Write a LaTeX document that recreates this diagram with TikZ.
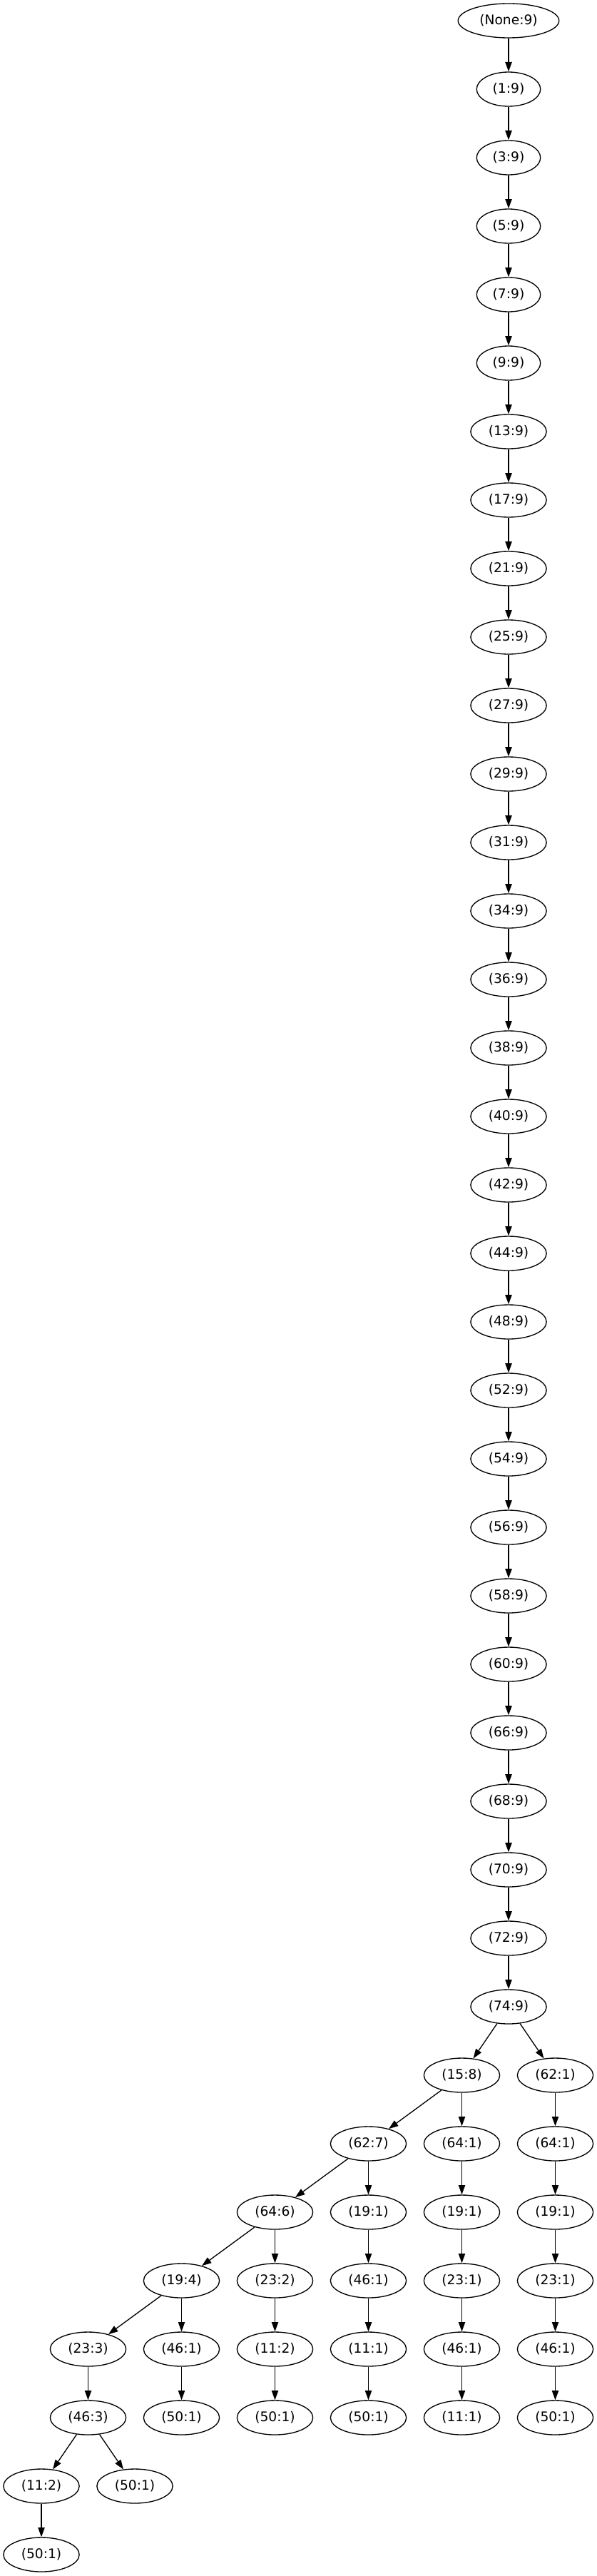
\documentclass[tikz,border=0pt]{standalone}
\usepackage{fontspec}
\setmainfont{DejaVu Sans}
\usetikzlibrary{arrows.meta,shapes.geometric}

\begin{document}
\begin{tikzpicture}[x=49.125pt,y=-72pt,
  vtx/.style={draw,ellipse,line width=1pt,minimum height=36pt,inner xsep=7pt,inner ysep=2pt,font=\fontsize{14pt}{16pt}\selectfont},
  link/.style={-{Triangle[length=10pt,width=7pt]},line width=1pt}]

\useasboundingbox (-0.8855,-0.302) rectangle (11.878,37.3125);

% the long chain
\foreach \lab [count=\i from 0] in {None,1,3,5,7,9,13,17,21,25,27,29,31,34,36,38,40,42,44,48,52,54,56,58,60,66,68,70,72,74}
  \node[vtx] (c\i) at (10,\i) {(\lab:9)};
\foreach \i [remember=\i as \j (initially 0)] in {1,...,29}
  \draw[link] (c\j) -- (c\i);

% the branches
\node[vtx] (n15) at (9,30) {(15:8)};
\node[vtx] (n62a) at (11,30) {(62:1)};
\node[vtx] (n62) at (7,31) {(62:7)};
\node[vtx] (n64a) at (9,31) {(64:1)};
\node[vtx] (n64b) at (11,31) {(64:1)};
\node[vtx] (n64) at (5,32) {(64:6)};
\node[vtx] (n19a) at (7,32) {(19:1)};
\node[vtx] (n19b) at (9,32) {(19:1)};
\node[vtx] (n19c) at (11,32) {(19:1)};
\node[vtx] (n19) at (3,33) {(19:4)};
\node[vtx] (n23a) at (5,33) {(23:2)};
\node[vtx] (n46a) at (7,33) {(46:1)};
\node[vtx] (n23b) at (9,33) {(23:1)};
\node[vtx] (n23c) at (11,33) {(23:1)};
\node[vtx] (n23) at (1,34) {(23:3)};
\node[vtx] (n46b) at (3,34) {(46:1)};
\node[vtx] (n11a) at (5,34) {(11:2)};
\node[vtx] (n11b) at (7,34) {(11:1)};
\node[vtx] (n46c) at (9,34) {(46:1)};
\node[vtx] (n46d) at (11,34) {(46:1)};
\node[vtx] (n46) at (1,35) {(46:3)};
\node[vtx] (n50a) at (3,35) {(50:1)};
\node[vtx] (n50b) at (5,35) {(50:1)};
\node[vtx] (n50c) at (7,35) {(50:1)};
\node[vtx] (n11c) at (9,35) {(11:1)};
\node[vtx] (n50d) at (11,35) {(50:1)};
\node[vtx] (n11) at (0,36) {(11:2)};
\node[vtx] (n50e) at (2,36) {(50:1)};
\node[vtx] (n50f) at (0,37) {(50:1)};

\foreach \a/\b in {c29/n15,c29/n62a,n15/n62,n15/n64a,n62a/n64b,n62/n64,n62/n19a,n64a/n19b,n64b/n19c,n64/n19,n64/n23a,n19a/n46a,n19b/n23b,n19c/n23c,n19/n23,n19/n46b,n23a/n11a,n46a/n11b,n23b/n46c,n23c/n46d,n23/n46,n46b/n50a,n11a/n50b,n11b/n50c,n46c/n11c,n46d/n50d,n46/n11,n46/n50e,n11/n50f}
  \draw[link] (\a) -- (\b);
\end{tikzpicture}
\end{document}
